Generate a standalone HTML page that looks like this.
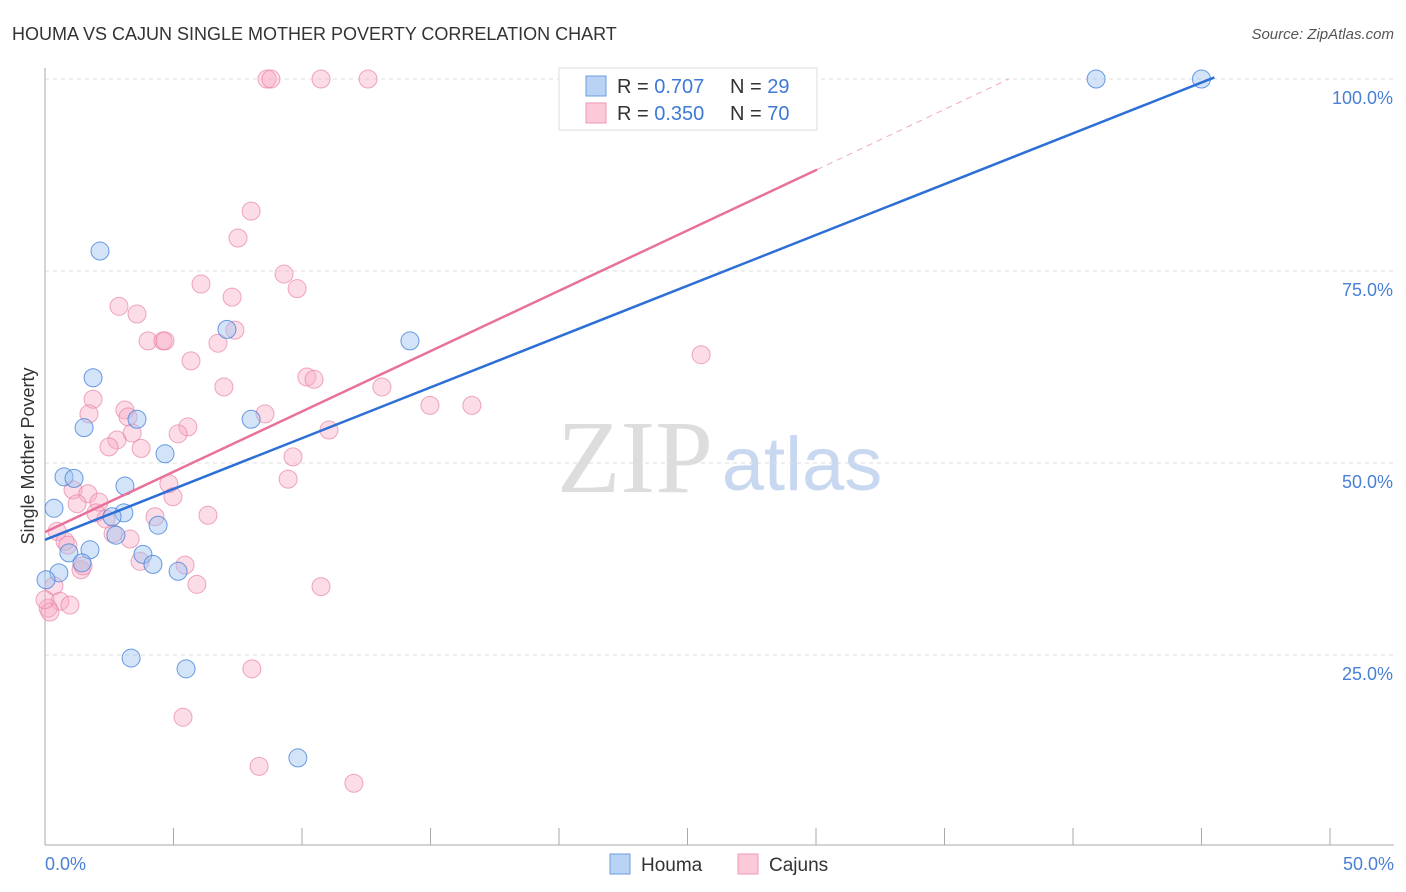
<!DOCTYPE html>
<html><head><meta charset="utf-8"><style>
body{margin:0;background:#fff;font-family:"Liberation Sans",sans-serif;}
svg{display:block}
</style></head><body>
<svg id="chart" width="1406" height="892">
<text x="12" y="40" font-size="18" fill="#333">HOUMA VS CAJUN SINGLE MOTHER POVERTY CORRELATION CHART</text>
<text x="1394" y="39" font-size="15" fill="#555" text-anchor="end" font-style="italic">Source: ZipAtlas.com</text>
<text x="635" y="492" font-size="104" fill="#ddd" text-anchor="middle" font-family="Liberation Serif, serif">ZIP</text>
<text x="802" y="490" font-size="76" fill="#c8d8f0" text-anchor="middle">atlas</text>
<g id="grid"></g><g id="axes"></g><g id="marks"></g><g id="trends"></g>
<text transform="translate(34,456) rotate(-90)" font-size="18" fill="#333" text-anchor="middle">Single Mother Poverty</text>
<text x="45" y="870" font-size="18" fill="#4a7fd6">0.0%</text>
<text x="1394" y="870" font-size="18" fill="#4a7fd6" text-anchor="end">50.0%</text>
<g>
<rect x="559" y="68" width="258" height="62" fill="#fff" stroke="#ddd"/>
<rect x="586" y="76" width="20" height="20" fill="#b9d3f5" stroke="#6f9de0"/>
<rect x="586" y="103" width="20" height="20" fill="#fcc9d8" stroke="#ee99b3"/>
<text x="617" y="93" font-size="20" fill="#333">R = <tspan fill="#3f79d6">0.707</tspan></text>
<text x="730" y="93" font-size="20" fill="#333">N = <tspan fill="#3f79d6">29</tspan></text>
<text x="617" y="120" font-size="20" fill="#333">R = <tspan fill="#3f79d6">0.350</tspan></text>
<text x="730" y="120" font-size="20" fill="#333">N = <tspan fill="#3f79d6">70</tspan></text>
</g>
<g>
<rect x="610" y="854" width="20" height="20" fill="#b9d3f5" stroke="#6f9de0"/>
<text x="641" y="871" font-size="19" fill="#333">Houma</text>
<rect x="738" y="854" width="20" height="20" fill="#fcc9d8" stroke="#ee99b3"/>
<text x="769" y="871" font-size="19" fill="#333">Cajuns</text>
</g>
</svg>
<script>
const yTicks=[25,50,75,100];
const houmaX=[40.9,45.0,2.14,7.08,14.2,1.87,1.52,3.58,8.02,4.67,0.74,1.13,3.11,0.35,3.07,2.61,2.76,4.40,1.75,0.93,3.81,1.44,4.20,5.18,0.54,0.04,3.35,5.49,9.84];
const houmaY=[100,100,77.6,67.4,65.9,61.1,54.6,55.7,55.7,51.2,48.2,48.0,47.0,44.1,43.5,43.0,40.6,41.9,38.7,38.3,38.1,37.0,36.8,35.9,35.7,34.8,24.6,23.2,11.6];
const cajunX=[8.64,8.79,10.74,12.57,8.02,7.51,9.30,6.07,9.81,7.28,2.88,3.58,7.39,4.01,4.59,4.67,6.73,5.68,25.53,6.96,10.19,10.47,13.11,1.87,14.98,16.61,3.11,1.71,3.23,8.56,5.56,5.18,3.39,11.05,2.80,3.74,2.49,9.65,9.46,1.09,1.67,4.82,4.98,1.25,2.10,1.98,2.37,4.28,6.34,0.47,2.65,0.78,0.89,3.31,3.70,5.45,1.40,1.48,5.91,10.74,0.35,0.58,0.97,0.12,0.19,8.05,5.37,8.33,12.02,0.0];
const cajunY=[100,100,100,100,82.8,79.3,74.6,73.3,72.7,71.6,70.4,69.4,67.3,65.9,65.9,65.9,65.6,63.3,64.1,59.9,61.2,60.9,59.9,58.3,57.5,57.5,56.9,56.4,56.0,56.4,54.7,53.8,53.9,54.3,53.0,51.9,52.1,50.8,47.9,46.5,46.0,47.3,45.6,44.7,44.9,43.5,42.7,43.0,43.2,41.1,40.8,39.8,39.3,40.1,37.2,36.7,36.1,36.6,34.2,33.9,34.0,32.0,31.5,31.1,30.6,23.2,16.9,10.5,8.3,32.2];
const houmaTrend=[40.0,100.2];
const houmaTrendX=[0,45.5];
const cajunTrend=[41.0,88.2,100];
const cajunTrendX=[0,30.04,37.5];
const NS='http://www.w3.org/2000/svg';
const sx=v=>45+v/50*1285;
const sy=v=>847-v/100*768;
function mk(t,a,p){const e=document.createElementNS(NS,t);for(const k in a)e.setAttribute(k,a[k]);document.getElementById(p).appendChild(e);return e;}
yTicks.forEach(t=>{
 const l=mk('line',{x1:45,x2:1394,y1:sy(t),y2:sy(t),stroke:'#ddd','stroke-dasharray':'4,4'},'grid');
 
 
 const tx=mk('text',{x:1393,y:sy(t)+25,'font-size':18,fill:'#4a7fd6','text-anchor':'end'},'grid');
 tx.textContent=t.toFixed(1)+'%';
 
 
});
const ax=mk('line',{x1:45,x2:45,y1:68,y2:845,stroke:'#aaa'},'axes');


const bx=mk('line',{x1:45,x2:1394,y1:845,y2:845,stroke:'#aaa'},'axes');


for(let i=0;i<=10;i++){const t=mk('line',{x1:sx(i*5),x2:sx(i*5),y1:828,y2:845,stroke:'#aaa'},'axes');
 
 }
cajunX.forEach((x,i)=>{const c=mk('circle',{cx:sx(x),cy:sy(cajunY[i]),r:9,fill:'rgba(248,170,195,0.4)',stroke:'rgba(232,130,165,0.7)'},'marks');
 
 });
houmaX.forEach((x,i)=>{const c=mk('circle',{cx:sx(x),cy:sy(houmaY[i]),r:9,fill:'rgba(160,195,240,0.45)',stroke:'rgba(70,130,220,0.8)'},'marks');
 
 });
const hl=mk('line',{x1:sx(houmaTrendX[0]),y1:sy(houmaTrend[0]),x2:sx(houmaTrendX[1]),y2:sy(houmaTrend[1]),stroke:'#2c6fd6','stroke-width':2.5},'trends');


const cl=mk('line',{x1:sx(cajunTrendX[0]),y1:sy(cajunTrend[0]),x2:sx(cajunTrendX[1]),y2:sy(cajunTrend[1]),stroke:'#e8719a','stroke-width':2.5},'trends');


const cd=mk('line',{x1:sx(cajunTrendX[1]),y1:sy(cajunTrend[1]),x2:sx(cajunTrendX[2]),y2:sy(cajunTrend[2]),stroke:'#f0a8c0','stroke-width':1,'stroke-dasharray':'6,5'},'trends');


</script>
</body></html>
